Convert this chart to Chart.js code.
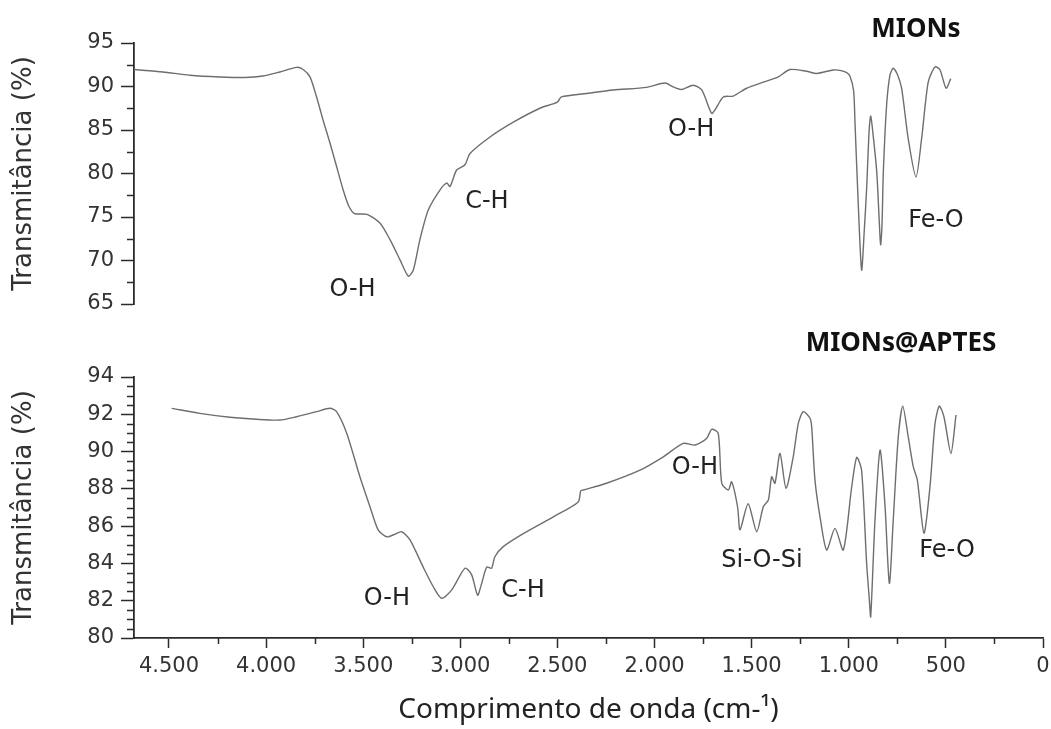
<!DOCTYPE html>
<html><head><meta charset="utf-8">
<script src="https://cdn.jsdelivr.net/npm/chart.js@4.4.0/dist/chart.umd.min.js"></script>
<style>
html,body{margin:0;padding:0;background:#fff;}
#wrap{position:relative;width:1051px;height:729px;background:#fff;}
canvas{position:absolute;left:0;top:0;}
</style>
</head><body>
<div id="wrap"><canvas id="cTop" width="1051" height="729"></canvas><canvas id="cBottom" width="1051" height="729"></canvas></div>
<script>
// ---- data ----
const topWavenumber = [4681,4531,4392,4238,4109,4016,3929,3843,3809,3774,3740,3706,3671,3637,3603,3575,3545,3480,3414,3362,3311,3268,3242,3208,3165,3105,3070,3053,3019,2976,2950,2847,2727,2590,2500,2480,2350,2212,2041,1946,1904,1860,1801,1757,1706,1689,1646,1595,1526,1440,1363,1303,1217,1165,1080,1045,1011,994,975,968,951,934,920,908,895,887,875,856,843,836,829,822,805,788,771,750,728,694,654,625,591,556,530,499,475];
const topTransmittance = [91.95,91.67,91.3,91.1,91.03,91.2,91.67,92.2,91.95,91.1,88.8,86.1,83.5,80.8,78.1,76.3,75.4,75.3,74.3,72.4,70.1,68.2,68.9,72.4,75.8,78.1,78.9,78.5,80.4,81.0,82.3,84.2,85.9,87.5,88.2,88.8,89.2,89.6,89.9,90.4,89.95,89.65,90.15,89.6,86.9,87.3,88.8,88.9,89.8,90.5,91.1,91.95,91.75,91.5,91.9,91.85,91.6,91.2,89.5,85.9,76.4,68.9,73.5,78.3,85.0,86.6,84.5,80.2,74.5,71.8,74.0,80.2,87.9,91.3,92.1,91.4,89.8,84.0,79.6,84.0,90.5,92.25,91.9,89.8,90.9];

const bottomWavenumber = [4486,4341,4186,4049,3929,3843,3740,3671,3637,3585,3517,3465,3423,3379,3340,3302,3259,3191,3139,3096,3045,2976,2942,2911,2890,2864,2839,2822,2779,2676,2521,2393,2380,2367,2247,2075,1955,1852,1792,1732,1706,1672,1654,1620,1603,1572,1560,1518,1474,1440,1414,1397,1380,1354,1323,1286,1260,1234,1200,1191,1174,1148,1114,1071,1028,985,959,934,908,894,887,865,839,814,791,771,745,722,694,668,647,613,582,556,534,510,474,448];
const bottomTransmittance = [92.32,92.05,91.84,91.73,91.69,91.87,92.14,92.32,92.14,90.98,88.65,87.04,85.8,85.43,85.55,85.7,85.26,83.8,82.75,82.13,82.57,83.74,83.4,82.3,82.93,83.8,83.74,84.36,84.9,85.6,86.5,87.3,87.9,87.94,88.3,89.0,89.72,90.44,90.35,90.7,91.19,90.98,88.3,87.94,88.38,87.0,85.8,87.2,85.7,87.04,87.4,88.65,88.3,89.9,88.03,89.72,91.5,92.14,91.8,91.33,88.47,86.5,84.72,85.88,84.72,88.1,89.69,89.0,84.0,82.04,81.14,86.33,90.08,87.2,82.93,86.33,90.8,92.44,90.8,89.19,88.47,85.62,88.1,91.5,92.44,91.87,89.9,91.96];

const xTickValues = [0,500,1000,1500,2000,2500,3000,3500,4000,4500];
const xMinorValues = [250,750,1250,1750,2250,2750,3250,3750,4250];
const topYTicks = [65,70,75,80,85,90,95];
const topYMinor = [67.5,72.5,77.5,82.5,87.5,92.5];
const bottomYTicks = [80,82,84,86,88,90,92,94];
const bottomYMinor = [80.5,81,81.5,82.5,83,83.5,84.5,85,85.5,86.5,87,87.5,88.5,89,89.5,90.5,91,91.5,92.5,93,93.5];

const topLabels = ['O-H','C-H','O-H','Fe-O'];
const topLabelW = [3555,2863,1812,551];
const topLabelT = [66.64,76.73,85.0,74.55];
const bottomLabels = ['O-H','C-H','O-H','Si-O-Si','Fe-O'];
const bottomLabelW = [3378,2677,1792,1447,494];
const bottomLabelT = [82.09,82.52,89.12,84.13,84.67];

const yTitle = 'Transmitância (%)';
const xTitle = 'Comprimento de onda (cm-¹)';
const topPanelTitle = 'MIONs';
const bottomPanelTitle = 'MIONs@APTES';

// ---- helpers ----
const AXIS = '#2b2b2b';
const LINE = '#6e6e6e';
Chart.defaults.color = '#333';
function fmt(v){ return String(v).replace(/\B(?=(\d{3})+$)/, '.'); }
function toPts(xs, ys){ return xs.map((x,i)=>({x:x, y:ys[i]})); }

const decor = {
  id: 'decor',
  afterDraw(chart, args, o) {
    const ctx = chart.ctx, xs = chart.scales.x, ys = chart.scales.y, ca = chart.chartArea;
    ctx.save();
    ctx.strokeStyle = AXIS; ctx.lineWidth = 1.5;
    (o.yMinor||[]).forEach(v => { const p = Math.round(ys.getPixelForValue(v))+0.5; ctx.beginPath(); ctx.moveTo(ca.left-7,p); ctx.lineTo(ca.left,p); ctx.stroke(); });
    (o.xMinor||[]).forEach(v => { const p = Math.round(xs.getPixelForValue(v))+0.5; ctx.beginPath(); ctx.moveTo(p,ca.bottom); ctx.lineTo(p,ca.bottom+6); ctx.stroke(); });
    ctx.fillStyle = '#222'; ctx.textAlign = 'center'; ctx.textBaseline = 'middle';
    ctx.font = '24px "DejaVu Sans"';
    o.labels.forEach((t,i) => ctx.fillText(t, xs.getPixelForValue(o.lw[i]), ys.getPixelForValue(o.lt[i])));
    ctx.fillStyle = '#111';
    ctx.font = 'bold 26px "Noto Sans"';
    ctx.fillText(o.title, xs.getPixelForValue(o.titleW), ys.getPixelForValue(o.titleT));
    ctx.restore();
  }
};

function makeChart(id, xs, ys, cfg) {
  return new Chart(document.getElementById(id), {
    type: 'line',
    data: { datasets: [{ data: toPts(xs, ys), borderColor: LINE, borderWidth: 1.4, pointRadius: 0, tension: 0.25, fill: false }] },
    plugins: [decor],
    options: {
      responsive: false, animation: false, devicePixelRatio: 1,
      layout: { padding: cfg.padding },
      plugins: { legend: { display: false }, tooltip: { enabled: false }, decor: cfg.decor },
      scales: {
        x: {
          type: 'linear', reverse: true, min: 0, max: 4680, display: cfg.showX,
          afterBuildTicks: s => { s.ticks = xTickValues.map(v => ({value: v})); },
          afterFit: s => { s.height = cfg.showX ? 91 : 0; },
          border: { display: true, color: AXIS, width: 1.8 },
          grid: { drawOnChartArea: false, drawTicks: true, tickLength: 10, tickColor: AXIS, tickWidth: 1.5 },
          ticks: { padding: 6, maxRotation: 0, autoSkip: false, font: { family: 'DejaVu Sans', size: 21 }, color: '#333', callback: v => fmt(v) },
          title: { display: true, text: xTitle, font: { family: 'Noto Sans', size: 28 }, color: '#222', padding: { top: 0, bottom: 2 } }
        },
        y: {
          type: 'linear', min: cfg.ymin, max: cfg.ymax,
          afterBuildTicks: s => { s.ticks = cfg.yTicks.map(v => ({value: v})); },
          afterFit: s => { s.width = 134; },
          border: { display: true, color: AXIS, width: 1.8 },
          grid: { drawOnChartArea: false, drawTicks: true, tickLength: 13, tickColor: AXIS, tickWidth: 1.5 },
          ticks: { padding: 7, font: { family: 'DejaVu Sans', size: 21 }, color: '#333' },
          title: { display: true, text: yTitle, font: { family: 'DejaVu Sans', size: 26 }, color: '#333', padding: { top: 9, bottom: 0 } }
        }
      }
    }
  });
}

makeChart('cTop', topWavenumber, topTransmittance, {
  padding: { left: 0, right: 8, top: 43, bottom: 425 },
  showX: false, ymin: 65, ymax: 95, yTicks: topYTicks,
  decor: { yMinor: topYMinor, xMinor: [], labels: topLabels, lw: topLabelW, lt: topLabelT, title: topPanelTitle, titleW: 654, titleT: 96.57 }
});
makeChart('cBottom', bottomWavenumber, bottomTransmittance, {
  padding: { left: 0, right: 8, top: 377, bottom: 0 },
  showX: true, ymin: 80, ymax: 94, yTicks: bottomYTicks,
  decor: { yMinor: bottomYMinor, xMinor: xMinorValues, labels: bottomLabels, lw: bottomLabelW, lt: bottomLabelT, title: bottomPanelTitle, titleW: 731, titleT: 95.77 }
});
</script>
</body></html>
